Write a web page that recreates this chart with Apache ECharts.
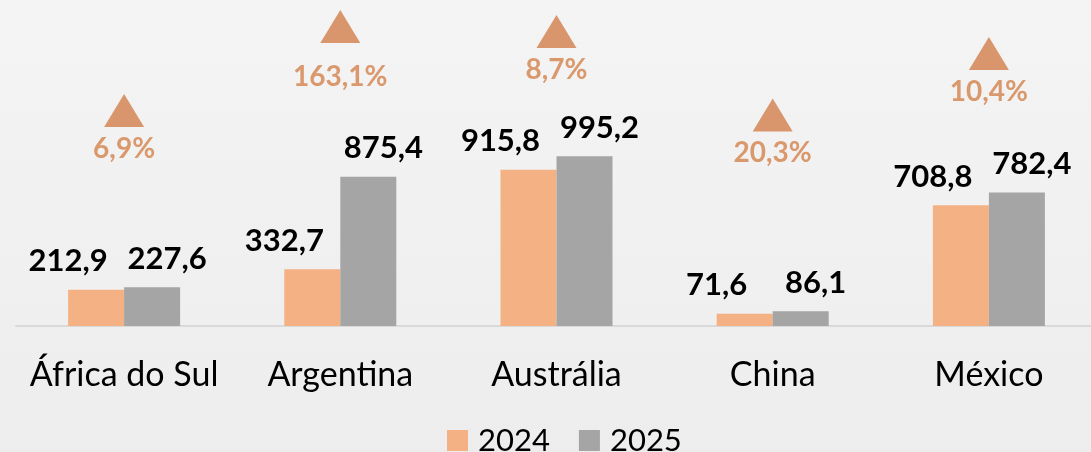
<!DOCTYPE html>
<html>
<head>
<meta charset="utf-8">
<script src="https://cdn.jsdelivr.net/npm/echarts@6/dist/echarts.min.js"></script>
<style>
  html, body { margin: 0; padding: 0; overflow: hidden; }
  /* a little wider than the window: the last category runs off the right edge */
  #chart { width: 1100px; height: 452px; }
</style>
</head>
<body>
<div id="chart"></div>
<script>
const categories = ['África do Sul', 'Argentina', 'Austrália', 'China', 'México'];
const values2024 = [212.9, 332.7, 915.8, 71.6, 708.8];
const values2025 = [227.6, 875.4, 995.2, 86.1, 782.4];
const growthLabels = ['6,9%', '163,1%', '8,7%', '20,3%', '10,4%'];
// height where each growth triangle sits (same units as the bars)
const growthMarkerLevel = [1264, 1757, 1727, 1238, 1598];

const FONT = 'Lato';
const fmt = v => v.toFixed(1).replace('.', ',');

const chart = echarts.init(document.getElementById('chart'));

const barLabel = (dx) => ({
  show: true,
  position: 'top',
  distance: 13,
  offset: [dx, 0],
  fontFamily: FONT,
  fontWeight: 'bold',
  fontSize: 31,
  color: '#000',
  formatter: p => fmt(p.value)
});

const option = {
  backgroundColor: {
    type: 'linear', x: 0, y: 0, x2: 0, y2: 1,
    colorStops: [
      { offset: 0, color: '#F4F4F4' },
      { offset: 1, color: '#EDEDED' }
    ]
  },
  animation: false,
  grid: { left: 16, right: 3, top: 2, bottom: 126 },
  legend: {
    top: 420,
    left: 442,
    itemWidth: 21,
    itemHeight: 21,
    itemGap: 29,
    icon: 'rect',
    data: ['2024', '2025'],
    textStyle: { fontFamily: FONT, fontSize: 31, color: '#000', padding: [0, 0, 0, 5] }
  },
  xAxis: {
    type: 'category',
    data: categories,
    axisLine: { lineStyle: { color: '#D9D9D9', width: 2 } },
    axisTick: { show: false },
    axisLabel: { interval: 0, fontFamily: FONT, fontSize: 34, color: '#000', margin: 32 }
  },
  yAxis: {
    type: 'value',
    min: 0,
    max: 1900,
    show: false,
    splitLine: { show: false }
  },
  series: [
    {
      name: '2024',
      type: 'bar',
      data: values2024,
      barWidth: 56,
      barGap: '0%',
      itemStyle: { color: '#F4B183' },
      label: barLabel(-28)
    },
    {
      name: '2025',
      type: 'bar',
      data: values2025,
      barWidth: 56,
      itemStyle: { color: '#A5A5A5' },
      label: barLabel(15)
    },
    {
      name: 'Variação',
      type: 'scatter',
      // Argentina's label sits a bit lower under its marker in the original
      data: growthMarkerLevel.map((v, i) => i === 1 ? { value: v, label: { distance: 20 } } : v),
      symbol: 'triangle',
      symbolSize: [40, 33],
      clip: false,
      itemStyle: { color: '#D9966C', opacity: 1 },
      label: {
        show: true,
        position: 'bottom',
        distance: 8,
        fontFamily: FONT,
        fontWeight: 'bold',
        fontSize: 28,
        color: '#DA986D',
        formatter: p => growthLabels[p.dataIndex]
      }
    }
  ]
};

chart.setOption(option);
</script>
</body>
</html>
